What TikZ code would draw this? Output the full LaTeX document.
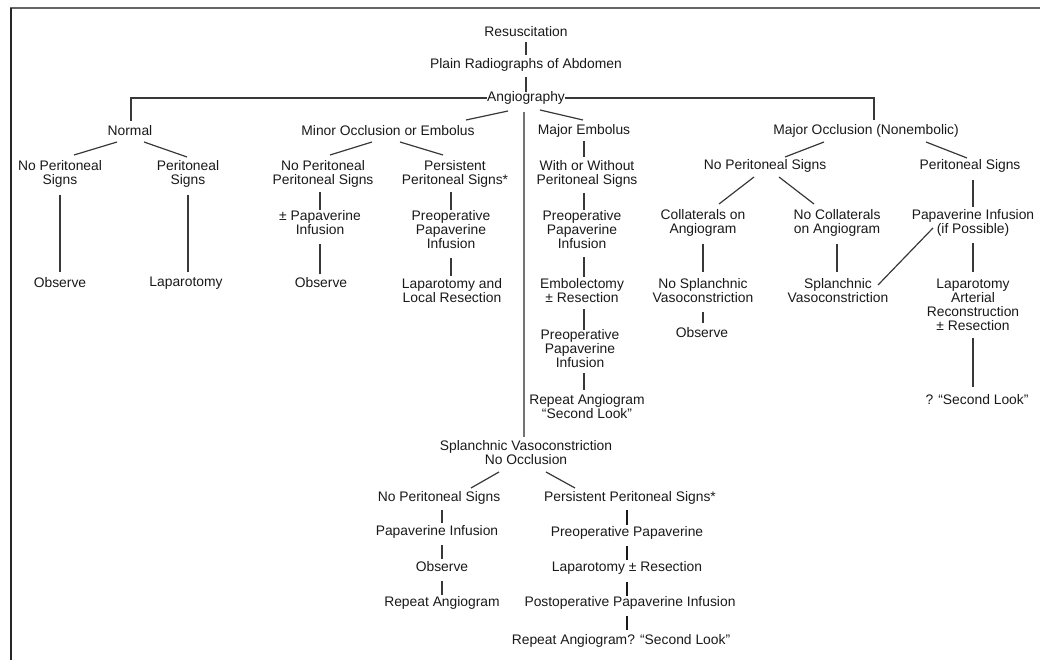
\documentclass[tikz,border=0pt]{standalone}
\usepackage{fontspec}
\setmainfont{Liberation Sans}
\usetikzlibrary{calc}
\newcommand\vlink[5][]{\draw[conn,#1] ($(#2.center)+(0,#3)$) -- ($(#2.center |- #4.center)+(0,#5)$);}
\newcommand\dlink[5][]{\draw[conn,#1] ($(#2.center)+(#3)$) -- ($(#4.center)+(#5)$);}
\begin{document}
\begin{tikzpicture}[x=1pt,y=-1pt,
  every node/.style={inner sep=0pt, outer sep=0pt, align=center, text=black!90,
    font=\fontsize{13.85}{14}\selectfont},
  conn/.style={draw=black!78, line width=1.2pt},
  bold/.style={draw=black!90, line width=1.7pt},
  longl/.style={draw=black!55, line width=2pt},
  frameline/.style={line width=1.3pt}]
\useasboundingbox (0,0) rectangle (1040,660);
% frame
\draw[frameline, draw=black!60] (10,8) -- (1040,8);
\draw[frameline, draw=black!85, line width=2pt] (11,8) -- (11,660);

% top
\node (res) at (526,32) {Resuscitation};
\node (rad) at (526,65) {Plain Radiographs of Abdomen};
\node (ang) at (526,98) {Angiography};
% level 2
\node (normal) at (130,131) {Normal};
\node (minor) at (388,131) {Minor Occlusion or Embolus};
\node (majemb) at (584,131) {Major Embolus};
\node (majocc) at (866,131) {Major Occlusion (Nonembolic)};
% normal branch
\node (nps1) at (60,174) {No Peritoneal\\Signs};
\node (ps1) at (188,174) {Peritoneal\\Signs};
\node (obs1) at (60,283) {Observe};
\node (lap1) at (186,283) {Laparotomy};
% minor branch
\node (nps2) at (323,174) {No Peritoneal\\Peritoneal Signs};
\node (pps2) at (455,174) {Persistent\\Peritoneal Signs*};
\node (pap2) at (320,223) {± Papaverine\\Infusion};
\node (obs2) at (321,283) {Observe};
\node (pre2) at (451,230) {Preoperative\\Papaverine\\Infusion};
\node (lls2) at (452,291) {Laparotomy and\\Local Resection};
% major embolus branch
\node (wow) at (587,174) {With or Without\\Peritoneal Signs};
\node (pre3) at (582,230) {Preoperative\\Papaverine\\Infusion};
\node (emb) at (582,291) {Embolectomy\\± Resection};
\node (pre4) at (580,349) {Preoperative\\Papaverine\\Infusion};
\node (rep) at (587,407) {Repeat Angiogram\\“Second Look”};
% splanchnic vasoconstriction
\node (spl) at (526,453) {Splanchnic Vasoconstriction\\No Occlusion};
\node (nps3) at (439,498) {No Peritoneal Signs};
\node (pps3) at (630,498) {Persistent Peritoneal Signs*};
\node (pif) at (437,532) {Papaverine Infusion};
\node (obs3) at (442,567) {Observe};
\node (ra3) at (442,603) {Repeat Angiogram};
\node (pp) at (627,533) {Preoperative Papaverine};
\node (lr) at (627,568) {Laparotomy ± Resection};
\node (post) at (630,603) {Postoperative Papaverine Infusion};
\node (rq) at (621,641) {Repeat Angiogram? “Second Look”};
% major occlusion branch
\node (npo) at (765,166) {No Peritoneal Signs};
\node (pso) at (970,166) {Peritoneal Signs};
\node (col) at (703,223) {Collaterals on\\Angiogram};
\node (ncol) at (837,223) {No Collaterals\\on Angiogram};
\node (nsv) at (703,291) {No Splanchnic\\Vasoconstriction};
\node (obs4) at (702,333) {Observe};
\node (sv) at (838,291) {Splanchnic\\Vasoconstriction};
\node (pif2) at (973,223) {Papaverine Infusion\\(if Possible)};
\node (lar) at (973,304.5) {Laparotomy\\Arterial\\Reconstruction\\± Resection};
\node (sl) at (977,400) {? “Second Look”};

% connectors: top
\vlink{res}{10}{rad}{-10}
\vlink{rad}{12}{ang}{-6}
\draw[conn] (ang.west) -| ($(normal.center)+(1,-10)$);
\draw[conn] (ang.east) -| ($(majocc.center)+(8,-11)$);
\dlink{ang}{-18,13}{minor}{78,-11}
\dlink{ang}{14,12}{majemb}{-1,-11}
\draw[longl] ($(ang.center)+(-2,14)$) -- ($(ang.center |- spl.center)+(-2,-16)$);
% normal
\dlink{normal}{-13,11}{nps1}{14,-19}
\dlink{normal}{14,11}{ps1}{-1,-17}
\vlink{nps1}{21}{obs1}{-11}
\vlink{ps1}{21}{lap1}{-11}
% minor
\dlink{minor}{-16,11}{nps2}{7,-19}
\dlink{minor}{12,11}{pps2}{-12,-19}
\vlink{pap2}{-13}{nps2}{18}
\vlink{pap2}{21}{obs2}{-9}
\vlink{pre2}{-20}{pps2}{18}
\vlink{pre2}{28}{lls2}{-15}
% major embolus
\vlink{majemb}{10}{wow}{-17}
\vlink{majemb}{62}{pre3}{-20}
\vlink{majemb}{126}{emb}{-14}
\vlink{majemb}{178}{pre4}{-19}
\vlink{majemb}{242}{rep}{-17}
% splanchnic
\dlink{spl}{-27,19}{nps3}{32,-10}
\dlink{spl}{20,19}{pps3}{-55,-10}
\vlink{obs3}{-44}{nps3}{12}
\vlink{obs3}{-8}{pif}{13}
\vlink{obs3}{14}{ra3}{-8}
\vlink[bold]{pp}{-8}{pps3}{12}
\vlink[bold]{pp}{13}{lr}{-8}
\vlink[bold]{pp}{49}{post}{-7}
\vlink[bold]{pp}{83}{rq}{-11}
% major occlusion
\dlink{majocc}{-42,11}{npo}{20,-9}
\dlink{majocc}{60,11}{pso}{-3,-8}
\dlink{npo}{-11,11}{col}{16,-19}
\dlink{npo}{14,11}{ncol}{-23,-19}
\vlink{col}{21}{nsv}{-19}
\vlink{col}{89}{obs4}{-10}
\vlink{ncol}{21}{sv}{-19}
\dlink{sv}{40,-6}{pif2}{-40,5}
\vlink{pif2}{-16}{pso}{14}
\vlink{pif2}{20}{lar}{-32.5}
\vlink{pif2}{115}{sl}{-13}
\end{tikzpicture}
\end{document}
